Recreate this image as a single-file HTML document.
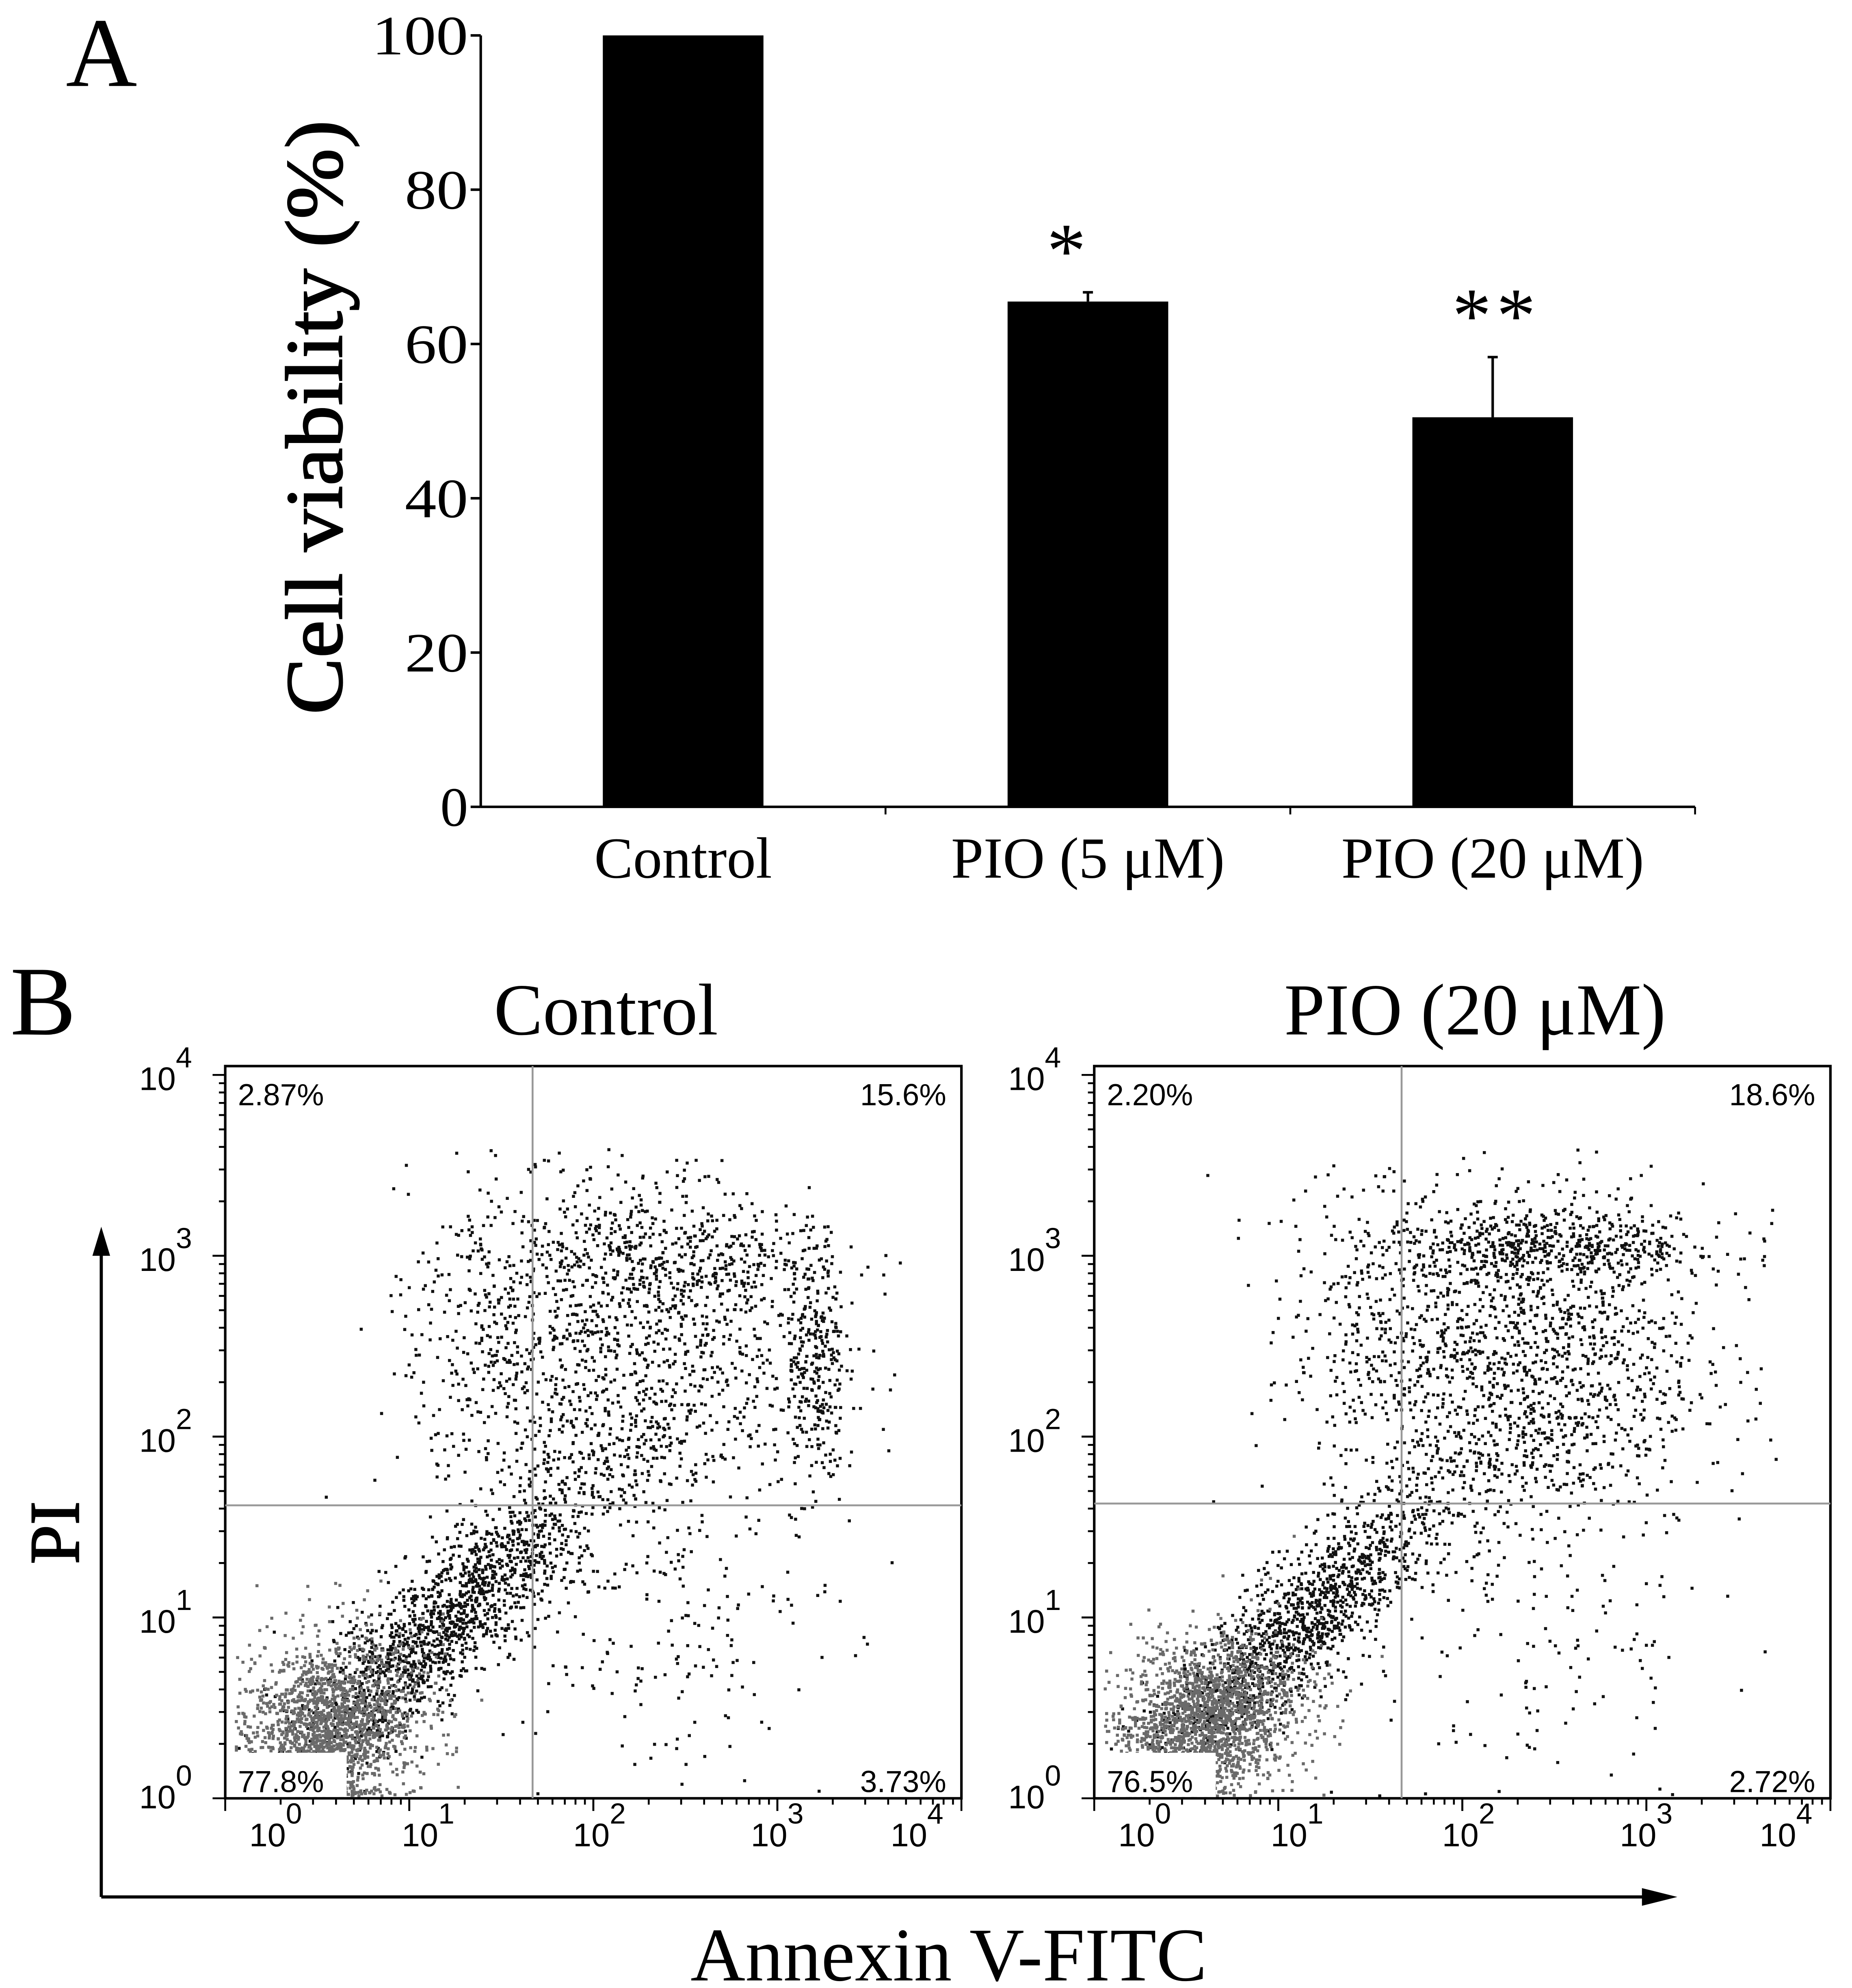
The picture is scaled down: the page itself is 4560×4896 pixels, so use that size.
<!DOCTYPE html>
<html><head><meta charset="utf-8"><style>
html,body{margin:0;padding:0;background:#fff;}
svg{display:block;}
.serif{font-family:"Liberation Serif",serif;}
.sans{font-family:"Liberation Sans",sans-serif;}
</style></head><body>
<svg id="fig" width="4560" height="4896" viewBox="0 0 1464 1572" xmlns="http://www.w3.org/2000/svg">
<rect width="1464" height="1572" fill="#fff"/>
<g id="panelA"></g>
<g id="panelB"></g>
</svg>
<script>
// ---------- Panel A data ----------
const categories = ["Control", "PIO (5 μM)", "PIO (20 μM)"];
const viability = [100, 65.5, 50.5];
const errors = [0, 1.2, 7.8];
const stars = ["", "*", "**"];
const yTicks = [0, 20, 40, 60, 80, 100];

// ---------- Panel B data (log10 units) ----------
const ctrlCX = [0.55, 1.15, 2.2, 2.5, 3.2, 2.3, 1.5];
const ctrlCY = [0.4, 0.95, 2.5, 3.0, 2.4, 0.9, 2.6];
const ctrlSX = [0.25, 0.45, 0.5, 0.45, 0.08, 0.45, 0.25];
const ctrlSY = [0.25, 0.45, 0.55, 0.12, 0.4, 0.4, 0.5];
const ctrlRho = [0.2, 0.88, 0, 0, 0, 0, 0];
const ctrlN = [1900, 1600, 1300, 280, 280, 150, 250];
const ctrlGray = [1, 0, 0, 0, 0, 0, 0];

const pioCX = [0.6, 1.1, 2.3, 2.5, 2.4, 1.5];
const pioCY = [0.45, 0.95, 2.4, 3.05, 0.9, 2.6];
const pioSX = [0.25, 0.42, 0.5, 0.5, 0.5, 0.3];
const pioSY = [0.22, 0.42, 0.5, 0.1, 0.45, 0.45];
const pioRho = [0.2, 0.88, 0, 0, 0, 0];
const pioN = [1900, 1400, 1500, 500, 130, 200];
const pioGray = [1, 0, 0, 0, 0, 0];

const ctrlPct = ["2.87%", "15.6%", "77.8%", "3.73%"];
const pioPct = ["2.20%", "18.6%", "76.5%", "2.72%"];
const gateX = [1.67, 1.67];
const gateY = [1.62, 1.63];
const decadeLabels = ["0", "1", "2", "3", "4"];

const NS = "http://www.w3.org/2000/svg";
function mk(tag, attrs, parent, text) {
  const e = document.createElementNS(NS, tag);
  for (const k in attrs) e.setAttribute(k, attrs[k]);
  if (text !== undefined) e.textContent = text;
  parent.appendChild(e);
  return e;
}

// ---------- Panel A ----------
const A = document.getElementById('panelA');
const ax0 = 380, ax1 = 1340, ay0 = 638, ay1 = 28;
const yA = v => ay0 - (v / 100) * (ay0 - ay1);
const bandW = (ax1 - ax0) / categories.length;
const xA = i => ax0 + bandW * (i + 0.5);
let t = mk('text', {x: 52, y: 68, 'font-size': 78, class: 'serif'}, A, 'A');


let l = mk('line', {x1: ax0, y1: ay1, x2: ax0, y2: ay0, stroke: '#000', 'stroke-width': 2}, A);


l = mk('line', {x1: ax0, y1: ay0, x2: ax1, y2: ay0, stroke: '#000', 'stroke-width': 2}, A);


yTicks.forEach(v => {
  mk('line', {x1: ax0 - 8, y1: yA(v), x2: ax0, y2: yA(v), stroke: '#000', 'stroke-width': 2}, A);
  const tt = mk('text', {x: ax0 - 10, y: yA(v) + 15, 'font-size': 44, 'text-anchor': 'end', class: 'serif', textLength: v === 100 ? 76 : (v === 0 ? 22 : 50), lengthAdjust: 'spacingAndGlyphs'}, A, String(v));
  
  
});
for (let i = 1; i <= categories.length; i++) {
  mk('line', {x1: ax0 + bandW * i, y1: ay0, x2: ax0 + bandW * i, y2: ay0 + 6, stroke: '#000', 'stroke-width': 1.5}, A);
}
t = mk('text', {x: 0, y: 0, 'font-size': 64, 'text-anchor': 'middle', class: 'serif', 'stroke': '#000', 'stroke-width': 1, transform: 'translate(270,330) rotate(-90)', textLength: 470, lengthAdjust: 'spacingAndGlyphs'}, A, 'Cell viability (%)');


categories.forEach((c, i) => {
  const bw = 127;
  const r = mk('rect', {x: xA(i) - bw / 2, y: yA(viability[i]), width: bw, height: ay0 - yA(viability[i]), fill: '#000'}, A);
  
  
  if (errors[i] > 0) {
    const e = mk('line', {x1: xA(i), y1: yA(viability[i]), x2: xA(i), y2: yA(viability[i] + errors[i]), stroke: '#000', 'stroke-width': 2}, A);
    
    
    mk('line', {x1: xA(i) - 4, y1: yA(viability[i] + errors[i]), x2: xA(i) + 4, y2: yA(viability[i] + errors[i]), stroke: '#000', 'stroke-width': 2}, A);
  }
  if (stars[i]) {
    const s = mk('text', {x: xA(i) + (i === 1 ? -15 : 3), y: yA(viability[i] + errors[i]) - 12, 'font-size': 62, 'text-anchor': 'middle', class: 'serif', 'letter-spacing': 4}, A, stars[i]);
    
    
  }
  const lab = mk('text', {x: xA(i), y: 694, 'font-size': 46, 'text-anchor': 'middle', class: 'serif'}, A, c);
  
  
});

// ---------- Panel B ----------
const B = document.getElementById('panelB');
t = mk('text', {x: 8, y: 818, 'font-size': 78, class: 'serif'}, B, 'B');



let seed = 12345;
function rnd() { seed = (seed * 1103515245 + 12345) % 2147483648; return seed / 2147483648; }
function gauss() { let u = rnd() || 1e-9, v = rnd(); return Math.sqrt(-2 * Math.log(u)) * Math.cos(2 * Math.PI * v); }

function drawPlot(x0, title, CX, CY, SX, SY, RHO, N, GRAY, pct, gx, gy, name) {
  const y0 = 1422, dx = 145.5, dy = 143, top = 843, right = x0 + 4 * dx;
  const px = lx => x0 + lx * dx;
  const py = ly => y0 - ly * dy;
  const g = mk('g', {}, B);
  
  
  const tt = mk('text', {x: (x0 + right) / 2 + 10, y: 818, 'font-size': 58, 'text-anchor': 'middle', class: 'serif'}, g, title);
  
  
  const pts = mk('g', {}, g);
  
  
  let dBlack = '', dGray = '';
  for (let p = 0; p < CX.length; p++) {
    for (let k = 0; k < N[p]; k++) {
      const z1 = gauss(), z2 = gauss();
      let lx = CX[p] + SX[p] * z1;
      let ly = CY[p] + SY[p] * (RHO[p] * z1 + Math.sqrt(1 - RHO[p] * RHO[p]) * z2);
      if (lx < 0.05 || lx > 3.7 || ly > 3.6) continue;
      if (ly < 0.02) ly = 0.02 + rnd() * 0.05;
      const s = `M${px(lx).toFixed(1)} ${py(ly).toFixed(1)}h2.4v2.4h-2.4z`;
      if (GRAY[p]) dGray += s; else dBlack += s;
    }
  }
  mk('path', {d: dBlack, fill: '#111'}, pts);
  mk('path', {d: dGray, fill: '#6a6a6a'}, pts);
  const bx = mk('rect', {x: x0, y: top, width: right - x0, height: y0 - top, fill: 'none', stroke: '#000', 'stroke-width': 2}, g);
  
  
  const gv = mk('line', {x1: px(gx), y1: top, x2: px(gx), y2: y0, stroke: '#999', 'stroke-width': 1.5}, g);
  
  
  const gh = mk('line', {x1: x0, y1: py(gy), x2: right, y2: py(gy), stroke: '#999', 'stroke-width': 1.5}, g);
  
  
  mk('rect', {x: x0 + 2, y: 1386, width: 94, height: 35, fill: '#fff'}, g);
  const pos = [[x0 + 10, 874, 'start'], [right - 12, 874, 'end'], [x0 + 10, 1417, 'start'], [right - 12, 1417, 'end']];
  pct.forEach((s, i) => {
    const q = mk('text', {x: pos[i][0], y: pos[i][1], 'font-size': 24, 'text-anchor': pos[i][2], class: 'sans'}, g, s);
    
    
  });
  for (let dcd = 0; dcd < 4; dcd++) {
    for (let m = 1; m <= 10; m++) {
      const v = dcd + Math.log10(m);
      const len = (m === 1 || m === 10) ? 10 : 5;
      mk('line', {x1: x0 - len, y1: py(v), x2: x0, y2: py(v), stroke: '#000', 'stroke-width': 1.5}, g);
      mk('line', {x1: px(v), y1: y0, x2: px(v), y2: y0 + len, stroke: '#000', 'stroke-width': 1.5}, g);
    }
  }
  decadeLabels.forEach((d, i) => {
    const yl = mk('text', {x: x0 - 68, y: py(i) + 12 - (i === 0 ? 4 : 0), 'font-size': 26, class: 'sans'}, g);
    
    
    mk('tspan', {}, yl, '10');
    mk('tspan', {dy: -18, 'font-size': 23}, yl, d);
    const xoff = [35, 10, 0, -5, -40][i];
    const xl = mk('text', {x: px(i) + xoff - 16, y: 1460, 'font-size': 26, class: 'sans'}, g);
    
    
    mk('tspan', {}, xl, '10');
    mk('tspan', {dy: -18, 'font-size': 23}, xl, d);
  });
}
drawPlot(178, 'Control', ctrlCX, ctrlCY, ctrlSX, ctrlSY, ctrlRho, ctrlN, ctrlGray, ctrlPct, gateX[0], gateY[0], 'control-scatter-plot');
drawPlot(865, 'PIO (20 μM)', pioCX, pioCY, pioSX, pioSY, pioRho, pioN, pioGray, pioPct, gateX[1], gateY[1], 'pio-scatter-plot');

l = mk('line', {x1: 80, y1: 1500, x2: 80, y2: 990, stroke: '#000', 'stroke-width': 2.5}, B);


mk('polygon', {points: '80,970 73,993 87,993', fill: '#000'}, B);
l = mk('line', {x1: 80, y1: 1500, x2: 1300, y2: 1500, stroke: '#000', 'stroke-width': 2.5}, B);


mk('polygon', {points: '1326,1500 1298,1493 1298,1507', fill: '#000'}, B);
t = mk('text', {x: 0, y: 0, 'font-size': 56, 'text-anchor': 'middle', class: 'serif', 'stroke': '#000', 'stroke-width': 1, transform: 'translate(62,1212) rotate(-90)'}, B, 'PI');


t = mk('text', {x: 750, y: 1566, 'font-size': 60, 'text-anchor': 'middle', class: 'serif'}, B, 'Annexin V-FITC');


</script>
</body></html>
